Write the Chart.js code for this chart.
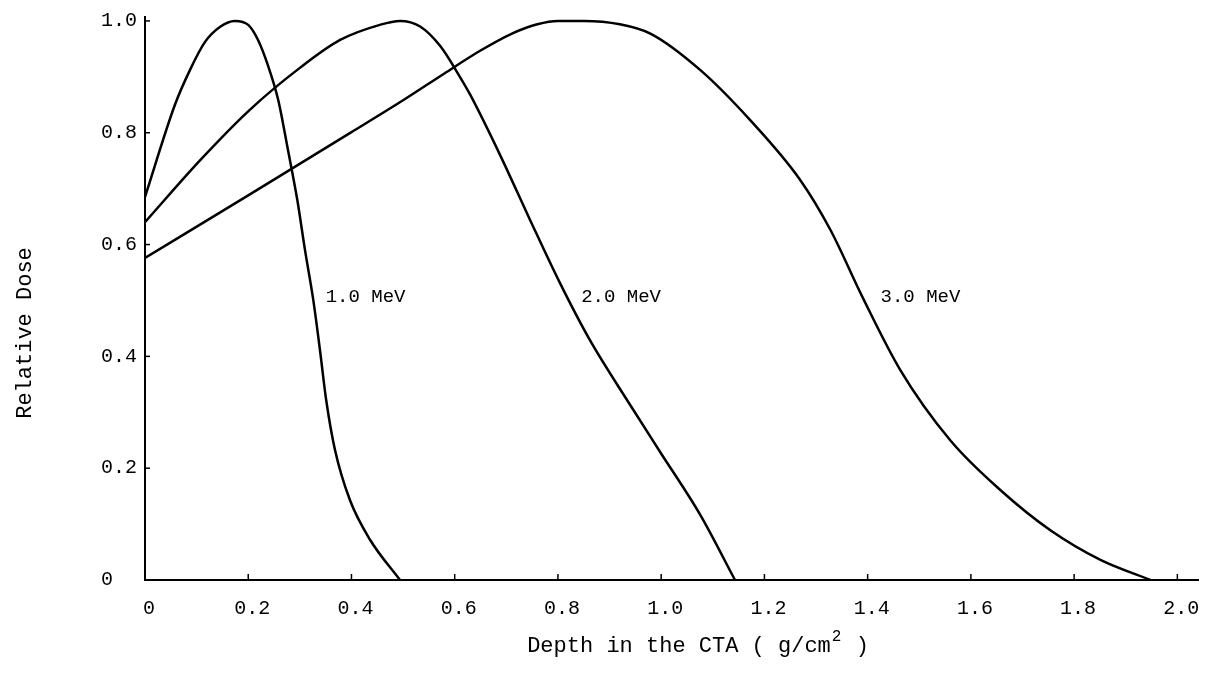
<!DOCTYPE html>
<html><head><meta charset="utf-8">
<script src="https://cdn.jsdelivr.net/npm/chart.js@4.4.1/dist/chart.umd.min.js"></script>
<style>html,body{margin:0;padding:0;background:#fff}#wrap{width:1215px;height:684px;position:relative}</style>
</head><body><div id="wrap"><canvas id="c" width="1215" height="684"></canvas></div>
<script>
// ---- data ----
const depth1MeV = [0, 0.058, 0.087, 0.116, 0.145, 0.174, 0.2, 0.219, 0.238, 0.258, 0.277, 0.295, 0.31, 0.326, 0.339, 0.351, 0.368, 0.397, 0.436, 0.494];
const dose1MeV  = [0.685, 0.85, 0.912, 0.962, 0.989, 1.0, 0.993, 0.966, 0.921, 0.859, 0.769, 0.68, 0.59, 0.501, 0.411, 0.322, 0.233, 0.143, 0.072, 0.0];

const depth2MeV = [0, 0.107, 0.203, 0.3, 0.378, 0.455, 0.494, 0.533, 0.572, 0.61, 0.63, 0.688, 0.746, 0.804, 0.862, 0.94, 0.998, 1.076, 1.143];
const dose2MeV  = [0.64, 0.751, 0.841, 0.916, 0.966, 0.993, 1.0, 0.99, 0.955, 0.9, 0.868, 0.76, 0.644, 0.531, 0.429, 0.313, 0.229, 0.116, 0.0];

const depth3MeV = [0, 0.2, 0.4, 0.5, 0.58, 0.65, 0.71, 0.76, 0.8, 0.85, 0.92, 0.98, 1.076, 1.172, 1.269, 1.328, 1.39, 1.463, 1.56, 1.657, 1.754, 1.851, 1.948];
const dose3MeV  = [0.576, 0.688, 0.801, 0.858, 0.906, 0.947, 0.977, 0.994, 1.0, 1.0, 0.994, 0.977, 0.912, 0.823, 0.716, 0.626, 0.506, 0.376, 0.25, 0.161, 0.089, 0.036, 0.0];

const seriesNames = ['1.0 MeV', '2.0 MeV', '3.0 MeV'];
const nameDepth = [0.35, 0.845, 1.425];
const nameDose  = [0.506, 0.506, 0.506];

const xTickValues = [0, 0.2, 0.4, 0.6, 0.8, 1.0, 1.2, 1.4, 1.6, 1.8, 2.0];
const yTickValues = [0, 0.2, 0.4, 0.6, 0.8, 1.0];
const xTitle = 'Depth in the CTA ( g/cm';
const xTitleSup = '2';
const xTitleEnd = ' )';
const yTitle = 'Relative Dose';

// ---- chart ----
const FONT = '"Liberation Mono", "Courier New", monospace';
const toPts = (xs, ys) => xs.map((x, i) => ({x: x, y: ys[i]}));
const lineStyle = {borderColor: '#000', borderWidth: 2.5, pointRadius: 0, fill: false, cubicInterpolationMode: 'monotone'};

const decor = {
  id: 'decor',
  afterDraw(chart) {
    const ctx = chart.ctx, xs = chart.scales.x, ys = chart.scales.y;
    const a = chart.chartArea;
    ctx.save();
    ctx.strokeStyle = '#000'; ctx.lineWidth = 1.5;
    xTickValues.forEach(v => { if (v === 0) return; const p = xs.getPixelForValue(v);
      ctx.beginPath(); ctx.moveTo(p, a.bottom); ctx.lineTo(p, a.bottom - 6); ctx.stroke(); });
    yTickValues.forEach(v => { if (v === 0) return; const p = ys.getPixelForValue(v);
      ctx.beginPath(); ctx.moveTo(a.left, p); ctx.lineTo(a.left + 5, p); ctx.stroke(); });
    ctx.fillStyle = '#000';
    ctx.font = '19px ' + FONT;
    ctx.textBaseline = 'middle'; ctx.textAlign = 'left';
    seriesNames.forEach((n, i) => ctx.fillText(n, xs.getPixelForValue(nameDepth[i]), ys.getPixelForValue(nameDose[i])));
    // y title
    ctx.font = '22px ' + FONT;
    ctx.save();
    ctx.translate(25, 333); ctx.rotate(-Math.PI / 2);
    ctx.textAlign = 'center'; ctx.fillText(yTitle, 0, 0);
    ctx.restore();
    // x title with superscript
    ctx.font = '22px ' + FONT;
    const w1 = ctx.measureText(xTitle).width;
    ctx.font = '16px ' + FONT;
    const w2 = ctx.measureText(xTitleSup).width;
    ctx.font = '22px ' + FONT;
    const w3 = ctx.measureText(xTitleEnd).width;
    let x0 = 697 - (w1 + w2 + w3) / 2, y0 = 652;
    ctx.textBaseline = 'alphabetic';
    ctx.fillText(xTitle, x0, y0);
    ctx.font = '16px ' + FONT; ctx.fillText(xTitleSup, x0 + w1 + 1, y0 - 11);
    ctx.font = '22px ' + FONT; ctx.fillText(xTitleEnd, x0 + w1 + w2 + 2, y0);
    ctx.restore();
  }
};

new Chart(document.getElementById('c'), {
  type: 'line',
  data: {datasets: [
    Object.assign({label: seriesNames[0], data: toPts(depth1MeV, dose1MeV)}, lineStyle),
    Object.assign({label: seriesNames[1], data: toPts(depth2MeV, dose2MeV)}, lineStyle),
    Object.assign({label: seriesNames[2], data: toPts(depth3MeV, dose3MeV)}, lineStyle)
  ]},
  options: {
    responsive: false, animation: false, devicePixelRatio: 1,
    layout: {padding: {left: 101, top: 17, right: 17, bottom: 0}},
    plugins: {legend: {display: false}, tooltip: {enabled: false}},
    scales: {
      x: {type: 'linear', min: 0, max: 2.04,
        afterBuildTicks: s => { s.ticks = xTickValues.map(v => ({value: v})); },
        afterFit: s => { s.height = 104; },
        grid: {display: false, drawTicks: false},
        border: {display: true, color: '#000', width: 2},
        ticks: {color: '#000', font: {family: FONT, size: 20}, padding: 17, labelOffset: 4, maxRotation: 0, autoSkip: false,
          callback: v => v === 0 ? '0' : Number(v).toFixed(1)}},
      y: {type: 'linear', min: 0, max: 1.007,
        afterBuildTicks: s => { s.ticks = yTickValues.map(v => ({value: v})); },
        afterFit: s => { s.width = 44; },
        grid: {display: false, drawTicks: false},
        border: {display: true, color: '#000', width: 2},
        ticks: {color: '#000', font: {family: FONT, size: 20}, crossAlign: 'far', padding: 0,
          callback: v => v === 0 ? '0' : Number(v).toFixed(1)}}
    }
  },
  plugins: [decor]
});
</script></body></html>
